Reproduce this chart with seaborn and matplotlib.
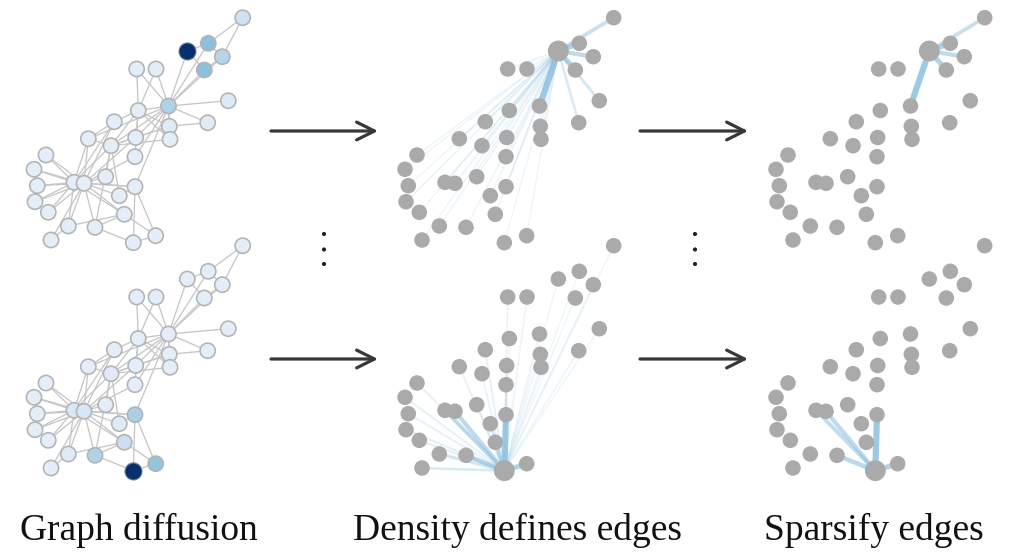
import numpy as np
import pandas as pd
import matplotlib
matplotlib.use("Agg")
import matplotlib.pyplot as plt
import seaborn as sns

# ---- data: karate-club layout (pixel coords of the first panel), ids 0..33
node_x = [168.5, 138.3, 111.0, 169.3, 187.3, 222.3, 208.3, 170.0, 88.3, 105.7,
          204.3, 228.3, 207.7, 135.7, 46.0, 34.0, 242.7, 136.7, 37.3, 135.0,
          35.0, 156.0, 48.3, 124.3, 133.3, 155.7, 51.0, 95.0, 119.3, 68.3,
          114.3, 135.0, 74.0, 84.0]
node_y = [106.0, 110.5, 145.7, 126.3, 51.0, 56.7, 43.3, 139.3, 138.7, 176.7,
          70.0, 100.7, 122.7, 137.5, 155.0, 169.3, 17.7, 69.0, 185.7, 156.7,
          201.7, 69.0, 212.3, 214.3, 242.7, 235.7, 240.0, 227.3, 195.7, 226.0,
          121.7, 186.7, 182.3, 183.3]

edges_src = [0]*16 + [1]*8 + [2]*8 + [3]*3 + [4]*2 + [5]*3 + [6] + [8]*3 + [9] + [13] + \
            [14]*2 + [15]*2 + [18]*2 + [19] + [20]*2 + [22]*2 + [23]*5 + [24]*3 + [25] + \
            [26]*2 + [27] + [28]*2 + [29]*2 + [30]*2 + [31]*2 + [32]
edges_dst = [1, 2, 3, 4, 5, 6, 7, 8, 10, 11, 12, 13, 17, 19, 21, 31,
             2, 3, 7, 13, 17, 19, 21, 30,
             3, 7, 8, 9, 13, 27, 28, 32,
             7, 12, 13,
             6, 10,
             6, 10, 16,
             16,
             30, 32, 33,
             33,
             33,
             32, 33,
             32, 33,
             32, 33,
             33,
             32, 33,
             32, 33,
             25, 27, 29, 32, 33,
             25, 27, 31,
             31,
             29, 33,
             33,
             31, 33,
             32, 33,
             32, 33,
             32, 33,
             33]

source_top = 4
source_bottom = 24

# diffusion heat (0..1) shown in the left panels
diff_top = [0.32, 0.1, 0.1, 0.12, 1.0, 0.3, 0.42, 0.1, 0.1, 0.1,
            0.42, 0.14, 0.12, 0.1, 0.1, 0.1, 0.2, 0.1, 0.1, 0.1,
            0.1, 0.1, 0.1, 0.1, 0.1, 0.1, 0.1, 0.1, 0.1, 0.1,
            0.1, 0.1, 0.1, 0.1]
diff_bottom = [0.1, 0.1, 0.12, 0.1, 0.1, 0.1, 0.1, 0.1, 0.1, 0.1,
               0.1, 0.1, 0.1, 0.1, 0.1, 0.1, 0.1, 0.1, 0.1, 0.1,
               0.1, 0.1, 0.1, 0.22, 1.0, 0.4, 0.1, 0.32, 0.12, 0.12,
               0.1, 0.34, 0.15, 0.16]

# edge density from the source node (middle panels)
dens_top = [0.9, 0.12, 0.1, 0.1, 0.0, 0.55, 0.7, 0.1, 0.08, 0.06,
            0.7, 0.3, 0.25, 0.1, 0.05, 0.05, 0.45, 0.1, 0.05, 0.08,
            0.05, 0.1, 0.05, 0.05, 0.04, 0.04, 0.04, 0.05, 0.06, 0.05,
            0.08, 0.08, 0.06, 0.06]
dens_bottom = [0.08, 0.06, 0.1, 0.06, 0.04, 0.04, 0.04, 0.06, 0.1, 0.12,
               0.04, 0.04, 0.06, 0.1, 0.12, 0.12, 0.04, 0.08, 0.12, 0.1,
               0.15, 0.06, 0.15, 0.4, 0.0, 0.7, 0.25, 0.6, 0.3, 0.35,
               0.12, 0.9, 0.5, 0.55]

sparse_top = [0, 5, 6, 10, 16]
sparse_bottom = [31, 25, 27, 32, 33]

captions = ["Graph diffusion", "Density defines edges", "Sparsify edges"]

# ---- layout / styles
col_dx = [0, 371, 742]
row_dy = [0, 228]
PT = 0.72  # points per pixel at dpi 100
EDGE_BLUE = "#8fc2e1"
GRAY = "#aaaaaa"

sns.set_theme(style="white")
plt.rcParams["font.family"] = ["Liberation Serif", "DejaVu Serif"]

fig = plt.figure(figsize=(10.15, 5.52), dpi=100)
ax = fig.add_axes([0, 0, 1, 1])
ax.set_xlim(0, 1015)
ax.set_ylim(552, 0)
ax.axis("off")

nx = np.array(node_x)
ny = np.array(node_y)

for r, (src, diff, dens, sparse) in enumerate([
        (source_top, diff_top, dens_top, sparse_top),
        (source_bottom, diff_bottom, dens_bottom, sparse_bottom)]):
    dy = row_dy[r]
    # --- left: original graph with diffusion heat
    dx = col_dx[0]
    for a, b in zip(edges_src, edges_dst):
        ax.plot([nx[a] + dx, nx[b] + dx], [ny[a] + dy, ny[b] + dy],
                color="#c6c6c6", lw=1.3 * PT, zorder=1, solid_capstyle="round")
    df = pd.DataFrame({"x": nx + dx, "y": ny + dy, "d": diff})
    sns.scatterplot(data=df, x="x", y="y", hue="d", palette="Blues", hue_norm=(0, 1),
                    s=120, edgecolor="#b3b3b3", linewidth=1.6 * PT, legend=False,
                    ax=ax, zorder=3)
    sns.scatterplot(x=[nx[src] + dx], y=[ny[src] + dy], color="#08306b", s=150,
                    edgecolor="#6f7f99", linewidth=1.0 * PT, legend=False, ax=ax, zorder=4)

    # --- middle: density defines edges
    dx = col_dx[1]
    for j in range(len(nx)):
        if j == src:
            continue
        w = dens[j]
        ax.plot([nx[src] + dx, nx[j] + dx], [ny[src] + dy, ny[j] + dy],
                color=EDGE_BLUE, lw=(1.2 + 5.5 * w) * PT, alpha=min(1, 0.12 + 0.85 * w),
                zorder=1, solid_capstyle="butt")
    # --- right: sparsified edges
    dx = col_dx[2]
    for j in sparse:
        w = dens[j]
        ax.plot([nx[src] + dx, nx[j] + dx], [ny[src] + dy, ny[j] + dy],
                color=EDGE_BLUE, lw=(1.2 + 5.5 * w) * PT, alpha=min(1, 0.12 + 0.85 * w),
                zorder=1, solid_capstyle="butt")

    for c in (1, 2):
        dx = col_dx[c]
        mask = np.arange(len(nx)) != src
        dfg = pd.DataFrame({"x": nx[mask] + dx, "y": ny[mask] + dy})
        sns.scatterplot(data=dfg, x="x", y="y", color=GRAY, s=125, edgecolor="none",
                        legend=False, ax=ax, zorder=3)
        sns.scatterplot(x=[nx[src] + dx], y=[ny[src] + dy], color=GRAY, s=225,
                        edgecolor="none", legend=False, ax=ax, zorder=4)

    # arrows
    ay = 131 + dy
    for x0, x1 in [(271, 378), (640, 748)]:
        ax.annotate("", xy=(x1, ay), xytext=(x0, ay),
                    arrowprops=dict(arrowstyle="->", lw=3.2 * PT, color="#383838",
                                    mutation_scale=32, shrinkA=0, shrinkB=0))

# vertical ellipses
for xd in (324, 695):
    sns.scatterplot(x=[xd] * 3, y=[234, 249.5, 264], color="#222222", s=9,
                    edgecolor="none", legend=False, ax=ax, zorder=3)

# captions
for cx, txt in zip([139, 518, 874], captions):
    ax.text(cx, 540, txt, ha="center", va="baseline", fontsize=27,
            color="#111111", family=["Liberation Serif", "DejaVu Serif"])

ax.set_xlabel("")
ax.set_ylabel("")
fig.savefig("out.png", dpi=100)
